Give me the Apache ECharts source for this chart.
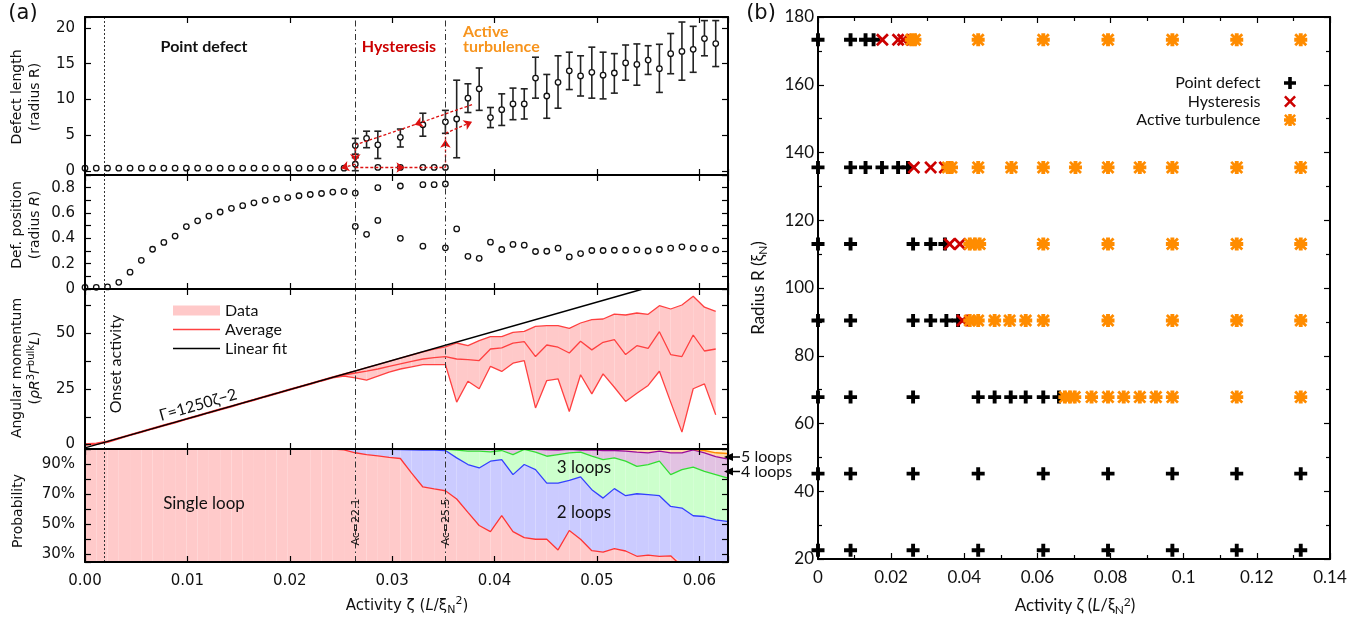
<!DOCTYPE html>
<html>
<head>
<meta charset="utf-8">
<script src="https://cdn.jsdelivr.net/npm/echarts@6/dist/echarts.min.js"></script>
<style>
html, body { margin: 0; padding: 0; background: #fff; }
#chart { width: 1364px; height: 624px; }
</style>
</head>
<body>
<div id="chart"></div>
<script>
// activity grid shared by the panels of (a)
var zeta = [0, 0.0011, 0.0022, 0.0033, 0.0044, 0.0055, 0.0066, 0.0077, 0.0088, 0.0099,
    0.0110, 0.0121, 0.0132, 0.0143, 0.0154, 0.0165, 0.0176, 0.0187, 0.0198, 0.0209,
    0.0220, 0.0231, 0.0242, 0.0253, 0.0264, 0.0275, 0.0286, 0.0297, 0.0308, 0.0319,
    0.0330, 0.0341, 0.0352, 0.0363, 0.0374, 0.0385, 0.0396, 0.0407, 0.0418, 0.0429,
    0.0440, 0.0451, 0.0462, 0.0473, 0.0484, 0.0495, 0.0506, 0.0517, 0.0528, 0.0539,
    0.0550, 0.0561, 0.0572, 0.0583, 0.0594, 0.0605, 0.0616];
var zetaEdge = [0.0627];

// onset / Ac=22.1 / Ac=25.5
var markZeta = [0.0019, 0.02635, 0.03514];

// defect length, upper branch with error bars
var dlZeta = [0.0264, 0.0275, 0.0286, 0.0308, 0.0330, 0.0352, 0.0363, 0.0374, 0.0385, 0.0396,
    0.0407, 0.0418, 0.0429, 0.0440, 0.0451, 0.0462, 0.0473, 0.0484, 0.0495, 0.0506,
    0.0517, 0.0528, 0.0539, 0.0550, 0.0561, 0.0572, 0.0583, 0.0594, 0.0605, 0.0616];
var dlVal = [3.6, 4.6, 3.7, 4.75, 6.5, 6.9, 7.3, 10.2, 11.5, 7.5,
    8.6, 9.4, 9.4, 13.0, 10.5, 12.4, 14.0, 13.3, 13.8, 13.4,
    13.7, 15.1, 14.9, 15.5, 14.3, 16.4, 16.7, 17.0, 18.5, 17.8];
var dlLo = [2.4, 3.3, 1.8, 3.4, 4.9, 5.3, 1.9, 8.2, 8.5, 6.1,
    6.4, 7.2, 7.3, 10.2, 7.4, 8.8, 11.4, 10.5, 10.2, 10.1,
    10.9, 12.7, 12.0, 13.5, 11.0, 13.6, 12.7, 13.8, 16.1, 14.6];
var dlHi = [4.6, 5.6, 5.6, 5.9, 8.1, 8.5, 12.7, 12.2, 14.4, 8.9,
    10.8, 11.6, 11.5, 15.9, 13.5, 16.1, 16.6, 16.1, 17.3, 16.6,
    16.4, 17.6, 17.75, 17.5, 17.7, 19.2, 20.8, 20.2, 21.0, 21.0];
// defect length, point-defect branch
var dlLowZeta = [0, 0.0011, 0.0022, 0.0033, 0.0044, 0.0055, 0.0066, 0.0077, 0.0088, 0.0099,
    0.0110, 0.0121, 0.0132, 0.0143, 0.0154, 0.0165, 0.0176, 0.0187, 0.0198, 0.0209,
    0.0220, 0.0231, 0.0242, 0.0253, 0.0264, 0.0286, 0.0308, 0.0330, 0.0341, 0.0352];
var dlLowVal = [0.45, 0.45, 0.45, 0.45, 0.45, 0.45, 0.45, 0.45, 0.45, 0.45,
    0.45, 0.45, 0.45, 0.45, 0.45, 0.45, 0.45, 0.45, 0.45, 0.45,
    0.45, 0.45, 0.45, 0.45, 1.0, 0.55, 0.55, 0.55, 0.55, 0.55];
var dlLowBar = [0.0264, 0.1, 1.9];

// hysteresis guide (red dashed)
var hystArrowSegs = [
    [[0.0264, 0.55], [0.0312, 0.55]],
    [[0.0352, 0.55], [0.0352, 4.4]],
    [[0.0352, 5.3], [0.0378, 6.9]],
    [[0.0378, 9.3], [0.0322, 6.5]],
    [[0.0264, 3.3], [0.0264, 1.3]],
    [[0.0264, 1.0], [0.0250, 0.45]]
];
var hystPlainSegs = [
    [[0.0312, 0.55], [0.0352, 0.55]],
    [[0.0352, 4.4], [0.0352, 5.3]],
    [[0.0322, 6.5], [0.0264, 3.7]]
];

// defect position
var dpZeta = [0, 0.0011, 0.0022, 0.0033, 0.0044, 0.0055, 0.0066, 0.0077, 0.0088, 0.0099,
    0.0110, 0.0121, 0.0132, 0.0143, 0.0154, 0.0165, 0.0176, 0.0187, 0.0198, 0.0209,
    0.0220, 0.0231, 0.0242, 0.0253, 0.0264,
    0.0286, 0.0308, 0.0330, 0.0341, 0.0352,
    0.0264, 0.0275, 0.0286, 0.0308, 0.0330, 0.0352,
    0.0363, 0.0374, 0.0385, 0.0396, 0.0407, 0.0418, 0.0429, 0.0440, 0.0451, 0.0462,
    0.0473, 0.0484, 0.0495, 0.0506, 0.0517, 0.0528, 0.0539, 0.0550, 0.0561, 0.0572,
    0.0583, 0.0594, 0.0605, 0.0616];
var dpVal = [0.013, 0.013, 0.016, 0.053, 0.133, 0.226, 0.314, 0.368, 0.418, 0.493,
    0.538, 0.576, 0.608, 0.637, 0.658, 0.68, 0.70, 0.709, 0.722, 0.736,
    0.746, 0.754, 0.765, 0.77, 0.757,
    0.80, 0.813, 0.824, 0.824, 0.829,
    0.494, 0.432, 0.541, 0.40, 0.338, 0.325,
    0.474, 0.258, 0.242, 0.37, 0.312, 0.352, 0.346, 0.296, 0.298, 0.322,
    0.253, 0.28, 0.304, 0.304, 0.306, 0.306, 0.309, 0.30, 0.312, 0.322,
    0.333, 0.322, 0.32, 0.309];

// angular momentum
var amAvg = [0.0, 0.3, 1.2, 2.8, 4.3, 5.7, 7.2, 8.6, 10.0, 11.5,
    12.9, 14.4, 15.8, 17.2, 18.7, 20.1, 21.6, 23.0, 24.5, 25.9,
    27.3, 28.8, 30.2, 31.3, 32.2, 33.0, 34.0, 35.2, 36.3, 37.4,
    38.5, 39.1, 39.6, 38.5, 38.2, 37.8, 43.0, 43.5, 45.6, 46.3,
    39.6, 44.8, 43.8, 41.2, 46.5, 42.6, 46.0, 47.2, 40.5, 44.5,
    43.3, 50.8, 40.5, 39.6, 49.3, 42.1, 43.0];
var amMax = [0.3, 0.6, 1.5, 3.0, 4.5, 5.9, 7.4, 8.8, 10.2, 11.7,
    13.1, 14.6, 16.0, 17.4, 18.9, 20.3, 21.8, 23.2, 24.7, 26.1,
    27.5, 29.0, 30.4, 31.8, 33.1, 34.6, 36.0, 37.4, 38.9, 40.3,
    41.7, 43.0, 44.0, 45.7, 44.5, 46.8, 48.6, 48.6, 50.5, 50.9,
    53.2, 53.5, 53.5, 52.3, 54.7, 56.2, 56.5, 58.7, 58.3, 59.2,
    58.6, 62.5, 61.0, 62.8, 66.7, 61.8, 59.9];
var amMin = [-0.2, 0.1, 1.0, 2.6, 4.1, 5.5, 7.0, 8.4, 9.8, 11.3,
    12.7, 14.2, 15.6, 17.0, 18.5, 19.9, 21.4, 22.8, 24.3, 25.7,
    27.1, 28.6, 30.0, 30.8, 30.0, 29.0, 30.8, 32.6, 34.0, 35.0,
    36.0, 36.0, 36.0, 19.1, 28.5, 25.1, 35.2, 32.9, 36.6, 37.8,
    16.5, 28.8, 29.6, 14.9, 31.4, 22.8, 31.8, 25.8, 19.4, 23.1,
    26.6, 33.0, 19.1, 5.6, 25.1, 27.3, 13.4];
var fitZeta = [0, 0.0545];
var fitVal = [-1.5, 70];

// probability, cumulative (%): 1, 1-2, 1-3, 1-4, 1-5 loops
var pRed = [100, 100, 100, 100, 100, 100, 100, 100, 100, 100,
    100, 100, 100, 100, 100, 100, 100, 100, 100, 100,
    100, 100, 100, 99.5, 97.5, 96.3, 95.5, 94.5, 93.7, 84.0,
    74.8, 73.5, 72.3, 66.8, 57.9, 49.2, 45.2, 55.7, 45.2, 41.2,
    40.1, 40.1, 33.0, 45.9, 40.1, 32.5, 31.5, 33.9, 32.3, 28.8,
    29.5, 28.8, 29.1, 22.0, 20.0, 19.0, 18.0, 17.0];
var pBlue = [100, 100, 100, 100, 100, 100, 100, 100, 100, 100,
    100, 100, 100, 100, 100, 100, 100, 100, 100, 100,
    100, 100, 100, 100, 100, 99.8, 99.7, 99.7, 99.6, 99.5,
    99.3, 99.2, 99.0, 94.1, 89.7, 87.4, 91.9, 93.0, 83.0, 89.7,
    86.3, 77.4, 77.4, 79.2, 81.5, 73.0, 67.4, 73.7, 69.0, 70.3,
    69.7, 69.0, 61.9, 60.8, 55.7, 55.2, 53.0, 51.9];
var pGreen = [100, 100, 100, 100, 100, 100, 100, 100, 100, 100,
    100, 100, 100, 100, 100, 100, 100, 100, 100, 100,
    100, 100, 100, 100, 100, 100, 100, 100, 100, 100,
    100, 100, 99.7, 99.2, 98.6, 98.6, 98.1, 99.0, 96.3, 99.7,
    97.9, 95.2, 96.3, 97.4, 97.9, 95.2, 93.0, 94.1, 91.9, 88.5,
    89.7, 91.9, 83.0, 86.3, 88.0, 85.2, 83.0, 80.8];
var pPurple = [100, 100, 100, 100, 100, 100, 100, 100, 100, 100,
    100, 100, 100, 100, 100, 100, 100, 100, 100, 100,
    100, 100, 100, 100, 100, 100, 100, 100, 100, 100,
    100, 100, 100, 100, 100, 100, 100, 100, 100, 100,
    99.7, 99.5, 99.3, 99.7, 99.3, 99.5, 99.0, 99.0, 98.6, 97.9,
    97.4, 98.6, 97.4, 97.4, 99.5, 97.4, 95.0, 93.5];
var pOrange = [100, 100, 100, 100, 100, 100, 100, 100, 100, 100,
    100, 100, 100, 100, 100, 100, 100, 100, 100, 100,
    100, 100, 100, 100, 100, 100, 100, 100, 100, 100,
    100, 100, 100, 100, 100, 100, 100, 100, 100, 100,
    100, 100, 100, 100, 100, 100, 100, 100, 100, 100,
    100, 100, 100, 100, 99.7, 99.0, 97.5, 97.0];

// phase diagram (b): [activity, radius]
var pointDefect = [
    [0, 173.3], [0.0089, 173.3], [0.0130, 173.3], [0.0152, 173.3],
    [0, 135.6], [0.0089, 135.6], [0.0130, 135.6], [0.0175, 135.6], [0.0219, 135.6], [0.0246, 135.6],
    [0, 113.0], [0.0089, 113.0], [0.0260, 113.0], [0.0308, 113.0], [0.0347, 113.0],
    [0, 90.4], [0.0089, 90.4], [0.0260, 90.4], [0.0308, 90.4], [0.0351, 90.4], [0.0383, 90.4],
    [0, 67.8], [0.0089, 67.8], [0.0260, 67.8], [0.0438, 67.8], [0.0483, 67.8], [0.0527, 67.8],
    [0.0568, 67.8], [0.0616, 67.8], [0.0659, 67.8],
    [0, 45.2], [0.0089, 45.2], [0.0260, 45.2], [0.0438, 45.2], [0.0616, 45.2], [0.0793, 45.2],
    [0.0969, 45.2], [0.1145, 45.2], [0.1320, 45.2],
    [0, 22.6], [0.0089, 22.6], [0.0260, 22.6], [0.0438, 22.6], [0.0616, 22.6], [0.0793, 22.6],
    [0.0969, 22.6], [0.1145, 22.6], [0.1320, 22.6]
];
var hysteresis = [
    [0.0176, 173.3], [0.0219, 173.3], [0.0233, 173.3],
    [0.0262, 135.6], [0.0308, 135.6], [0.0347, 135.6],
    [0.0360, 113.0], [0.0388, 113.0],
    [0.0395, 90.4]
];
var activeTurbulence = [
    [0.0255, 173.3], [0.0265, 173.3], [0.0438, 173.3], [0.0616, 173.3], [0.0793, 173.3],
    [0.0969, 173.3], [0.1145, 173.3], [0.1320, 173.3],
    [0.0355, 135.6], [0.0365, 135.6], [0.0438, 135.6], [0.0529, 135.6], [0.0616, 135.6],
    [0.0704, 135.6], [0.0793, 135.6], [0.0880, 135.6], [0.0969, 135.6], [0.1145, 135.6], [0.1320, 135.6],
    [0.0415, 113.0], [0.0429, 113.0], [0.0442, 113.0], [0.0616, 113.0], [0.0793, 113.0],
    [0.0969, 113.0], [0.1145, 113.0], [0.1320, 113.0],
    [0.0415, 90.4], [0.0438, 90.4], [0.0483, 90.4], [0.0524, 90.4], [0.0568, 90.4],
    [0.0616, 90.4], [0.0793, 90.4], [0.0969, 90.4], [0.1145, 90.4], [0.1320, 90.4],
    [0.0675, 67.8], [0.0689, 67.8], [0.0702, 67.8], [0.0748, 67.8], [0.0793, 67.8],
    [0.0836, 67.8], [0.0880, 67.8], [0.0924, 67.8], [0.0969, 67.8], [0.1145, 67.8], [0.1320, 67.8]
];

var NUM = 'DejaVu Sans';
var TXT = 'Lato';

var PLUS = 'path://M3.5,0H6.5V3.5H10V6.5H6.5V10H3.5V6.5H0V3.5H3.5Z';
var CROSS = 'path://M1.5,0L5,3.5L8.5,0L10,1.5L6.5,5L10,8.5L8.5,10L5,6.5L1.5,10L0,8.5L3.5,5L0,1.5Z';
var STAR = 'path://M3.5,0H6.5V3.5H10V6.5H6.5V10H3.5V6.5H0V3.5H3.5Z' +
    'M1.5,0L5,3.5L8.5,0L10,1.5L6.5,5L10,8.5L8.5,10L5,6.5L1.5,10L0,8.5L3.5,5L0,1.5Z';
var LINE_ICON = 'path://M0,0H100V3H0Z';

function pairs(xs, ys)
{
    return xs.map(function (x, i) { return [x, ys[i]]; });
}

// quads between a lower and an upper curve, one per interval
function quads(xs, lows, highs, layer)
{
    var out = [];
    for (var i = 0; i + 1 < xs.length; i++)
        out.push([xs[i], xs[i + 1], lows[i], lows[i + 1], highs[i], highs[i + 1], layer]);
    return out;
}

function bandRenderer(colors)
{
    return function (params, api) {
        var x0 = api.value(0), x1 = api.value(1);
        var pts = [
            api.coord([x0, api.value(2)]), api.coord([x1, api.value(3)]),
            api.coord([x1, api.value(5)]), api.coord([x0, api.value(4)])
        ];
        pts = echarts.graphic.clipPointsByRect(pts, params.coordSys);
        return {type: 'polygon', shape: {points: pts},
            style: {fill: colors[api.value(6)], stroke: null}};
    };
}

// show a label only on multiples of step (offset by base)
function every(step, base, fmt)
{
    return function (v) {
        var r = (v - base) / step;
        if (Math.abs(r - Math.round(r)) > 1e-6)
            return '';
        return fmt(v);
    };
}

function axis(grid, pos, min, max, extra)
{
    var a = {
        type: 'value', gridIndex: grid, position: pos, min: min, max: max,
        axisLine: {show: true, onZero: false, lineStyle: {color: '#000', width: 2}},
        axisTick: {show: true, inside: true, length: 6, lineStyle: {color: '#000', width: 1.2}},
        axisLabel: {show: false},
        splitLine: {show: false},
        z: 6
    };
    return Object.assign(a, extra || {});
}

function numLabel(fmt, margin)
{
    return {show: true, formatter: fmt, margin: margin, color: '#111',
        fontFamily: NUM, fontSize: 15};
}

var xMax = 0.0628;
var xAxes = [];
var yAxes = [];
for (var g = 0; g < 4; g++) {
    var bottom = {interval: 0.01};
    if (g === 3)
        bottom.axisLabel = numLabel(every(0.01, 0, function (v) { return v.toFixed(2); }), 12);
    xAxes.push(axis(g, 'bottom', 0, xMax, bottom));
    xAxes.push(axis(g, 'top', 0, xMax, {interval: 0.01}));
}

var yDefs = [
    {min: -0.5, max: 21.5, step: 5, lab: every(5, 0, function (v) { return String(v); })},
    {min: 0, max: 0.9, step: 0.1, lab: every(0.2, 0, function (v) { return v === 0 ? '0' : v.toFixed(1); })},
    {min: -2, max: 70, step: 12.5, lab: every(25, 0, function (v) { return String(v); })},
    {min: 25, max: 100, step: 10, lab: function (v) {
        return (v < 100 && v % 20 === 10) ? v + '%' : '';
    }}
];
yDefs.forEach(function (d, g) {
    yAxes.push(axis(g, 'left', d.min, d.max, {minInterval: d.step, maxInterval: d.step,
        axisLabel: numLabel(d.lab, 10)}));
    yAxes.push(axis(g, 'right', d.min, d.max, {minInterval: d.step, maxInterval: d.step}));
});

// panel (b)
var minorB = {show: true, splitNumber: 2, length: 4, lineStyle: {color: '#000', width: 1.2}};
var labB = {show: true, color: '#111', fontFamily: TXT, fontSize: 17};
xAxes.push(axis(4, 'bottom', 0, 0.14, {interval: 0.02, minorTick: minorB,
    axisLabel: Object.assign({margin: 10}, labB)}));
xAxes.push(axis(4, 'top', 0, 0.14, {interval: 0.02, minorTick: minorB}));
yAxes.push(axis(4, 'left', 20, 180, {interval: 20, minorTick: minorB,
    axisLabel: Object.assign({margin: 4}, labB)}));
yAxes.push(axis(4, 'right', 20, 180, {interval: 20, minorTick: minorB}));

function vlines()
{
    return {
        silent: true, symbol: ['none', 'none'], label: {show: false}, precision: 6,
        emphasis: {disabled: true},
        data: markZeta.map(function (v, i) {
            return {xAxis: v, lineStyle: {color: '#333', width: 1,
                type: i === 0 ? [2, 2] : [6, 3, 1.5, 3]}};
        })
    };
}

function circles(g, data)
{
    return {
        type: 'scatter', xAxisIndex: 2 * g, yAxisIndex: 2 * g, data: data,
        symbol: 'circle', symbolSize: 5.5, z: 4, silent: true,
        itemStyle: {color: '#fff', borderColor: '#111', borderWidth: 1.3, opacity: 1}
    };
}

function renderErr(params, api)
{
    var x = api.value(0);
    var lo = api.coord([x, api.value(1)]);
    var hi = api.coord([x, api.value(2)]);
    var w = 3.5;
    var st = {stroke: '#222', lineWidth: 1.6};
    return {
        type: 'group',
        children: [
            {type: 'line', shape: {x1: lo[0], y1: lo[1], x2: hi[0], y2: hi[1]}, style: st},
            {type: 'line', shape: {x1: lo[0] - w, y1: lo[1], x2: lo[0] + w, y2: lo[1]}, style: st},
            {type: 'line', shape: {x1: hi[0] - w, y1: hi[1], x2: hi[0] + w, y2: hi[1]}, style: st}
        ]
    };
}

var series = [];

// (a) top: defect length
series.push({
    type: 'custom', xAxisIndex: 0, yAxisIndex: 0, renderItem: renderErr,
    encode: {x: 0, y: [1, 2]}, z: 3, silent: true,
    data: dlZeta.map(function (z, i) { return [z, dlLo[i], dlHi[i]]; }).concat([dlLowBar])
});
var lowSeries = circles(0, pairs(dlLowZeta, dlLowVal));
lowSeries.markLine = {
    silent: true, symbol: ['none', 'arrow'], symbolSize: 8, label: {show: false}, precision: 6,
    emphasis: {disabled: true},
    lineStyle: {color: '#dd1111', type: [3, 2], width: 1.3},
    data: hystArrowSegs.map(function (s) {
        return [{coord: s[0]}, {coord: s[1]}];
    }).concat(hystPlainSegs.map(function (s) {
        return [{coord: s[0], symbol: 'none'}, {coord: s[1], symbol: 'none'}];
    }))
};
series.push(lowSeries);
var upSeries = circles(0, pairs(dlZeta, dlVal));
upSeries.markLine = vlines();
series.push(upSeries);

// (a) def. position
var posSeries = circles(1, pairs(dpZeta, dpVal));
posSeries.markLine = vlines();
series.push(posSeries);

// (a) angular momentum
series.push({
    type: 'custom', name: 'Data', xAxisIndex: 4, yAxisIndex: 4,
    renderItem: bandRenderer(['#ffc9c9']), encode: {x: [0, 1], y: [2, 3, 4, 5]},
    itemStyle: {color: '#ffc9c9'}, silent: true, z: 1,
    data: quads(zeta, amMin, amMax, 0)
});
[['max', amMax], ['Average', amAvg], ['min', amMin]].forEach(function (s) {
    series.push({
        type: 'line', name: s[0], xAxisIndex: 4, yAxisIndex: 4, symbol: 'none', showSymbol: false,
        data: pairs(zeta, s[1]), itemStyle: {color: '#ff4040'},
        lineStyle: {color: '#ff4040', width: 1.3}, silent: true
    });
});
series.push({
    type: 'line', name: 'Linear fit', xAxisIndex: 4, yAxisIndex: 4, symbol: 'none', showSymbol: false,
    data: pairs(fitZeta, fitVal), itemStyle: {color: '#000'},
    lineStyle: {color: '#000', width: 1.5}, silent: true, markLine: vlines()
});

// (a) probability
var probZeta = zeta.concat(zetaEdge);
var zeros = probZeta.map(function () { return 0; });
var full = probZeta.map(function () { return 100; });
var bounds = [pRed, pBlue, pGreen, pPurple, pOrange];
var fills = ['#ffcaca', '#cbcbff', '#ccffcc', '#e2c2e2', '#ffd8a8', '#fff0cc'];
var layerData = [];
[zeros].concat(bounds).forEach(function (lo, i) {
    var hi = i < bounds.length ? bounds[i] : full;
    layerData = layerData.concat(quads(probZeta, lo, hi, i));
});
series.push({
    type: 'custom', xAxisIndex: 6, yAxisIndex: 6, renderItem: bandRenderer(fills),
    encode: {x: [0, 1], y: [2, 3, 4, 5]}, silent: true, z: 1, data: layerData
});
var strokes = ['#ff3535', '#3340ff', '#33dd33', '#9a0a9a', '#ff8a00'];
bounds.forEach(function (arr, i) {
    var s = {
        type: 'line', xAxisIndex: 6, yAxisIndex: 6, symbol: 'none', showSymbol: false,
        data: pairs(probZeta, arr), lineStyle: {color: strokes[i], width: 1.3}, silent: true
    };
    if (i === bounds.length - 1)
        s.markLine = vlines();
    series.push(s);
});

// (b) phase diagram
series.push({
    type: 'scatter', name: 'Point defect', xAxisIndex: 8, yAxisIndex: 8, data: pointDefect,
    symbol: PLUS, symbolSize: 13, itemStyle: {color: '#000', opacity: 1}, silent: true
});
series.push({
    type: 'scatter', name: 'Hysteresis', xAxisIndex: 8, yAxisIndex: 8, data: hysteresis,
    symbol: CROSS, symbolSize: 13, itemStyle: {color: '#cc0000', opacity: 1}, silent: true
});
series.push({
    type: 'scatter', name: 'Active turbulence', xAxisIndex: 8, yAxisIndex: 8, data: activeTurbulence,
    symbol: STAR, symbolSize: 13, itemStyle: {color: '#ff8c00', opacity: 1}, silent: true
});

function txt(x, y, text, style, rotation)
{
    var s = Object.assign({
        text: text, fill: '#111', fontFamily: TXT, fontSize: 16,
        align: 'center', verticalAlign: 'middle',
        textAlign: 'center', textVerticalAlign: 'middle'
    }, style || {});
    return {type: 'text', x: x, y: y, rotation: rotation || 0, style: s, z: 100, silent: true};
}

var richA = {
    n: {fontFamily: NUM, fontSize: 14, lineHeight: 18, fill: '#111'},
    i: {fontFamily: NUM, fontSize: 14, lineHeight: 18, fontStyle: 'italic', fill: '#111'},
    sup: {fontFamily: NUM, fontSize: 10, lineHeight: 18, verticalAlign: 'top', fill: '#111'},
    sub: {fontFamily: NUM, fontSize: 10, lineHeight: 18, verticalAlign: 'bottom', fill: '#111'}
};
var richX = {
    n: {fontFamily: NUM, fontSize: 15, lineHeight: 20, fill: '#111'},
    i: {fontFamily: NUM, fontSize: 15, lineHeight: 20, fontStyle: 'italic', fill: '#111'},
    sup: {fontFamily: NUM, fontSize: 11, lineHeight: 20, verticalAlign: 'top', fill: '#111'},
    sub: {fontFamily: NUM, fontSize: 11, lineHeight: 20, verticalAlign: 'bottom', fill: '#111'}
};
var richB = {
    n: {fontFamily: TXT, fontSize: 17, lineHeight: 20, fill: '#111'},
    i: {fontFamily: TXT, fontSize: 17, lineHeight: 20, fontStyle: 'italic', fill: '#111'},
    sup: {fontFamily: TXT, fontSize: 12, lineHeight: 20, verticalAlign: 'top', fill: '#111'},
    sub: {fontFamily: TXT, fontSize: 12, lineHeight: 20, verticalAlign: 'bottom', fill: '#111'}
};
var UP = Math.PI / 2;

var graphics = [
    txt(23, 14, '(a)', {fontFamily: NUM, fontSize: 21}),
    txt(761, 14, '(b)', {fontFamily: NUM, fontSize: 21}),
    txt(26, 97, '{n|Defect length}\n{n|(radius R)}', {rich: richA}, UP),
    txt(26, 225, '{n|Def. position}\n{n|(radius }{i|R}{n|)}', {rich: richA}, UP),
    txt(26, 368, '{n|Angular momentum}\n{n|(}{i|ρR}{sup|3}{i|Γ}{sup|bulk}{i|L}{n|)}', {rich: richA}, UP),
    txt(18, 511, '{n|Probability}', {rich: richA}, UP),
    txt(407, 606, '{n|Activity ζ (}{i|L}{n|/ξ}{sub|N}{sup|2}{n|)}', {rich: richX}),
    txt(1075, 606, '{n|Activity ζ (}{i|L}{n|/ξ}{sub|N}{sup|2}{n|)}', {rich: richB}),
    txt(759, 288, '{n|Radius R (ξ}{sub|N}{n|)}', {rich: richB}, UP),
    txt(204, 47, 'Point defect', {fontWeight: 'bold', fontSize: 16}),
    txt(399, 47, 'Hysteresis', {fontWeight: 'bold', fontSize: 16, fill: '#cc0000'}),
    txt(463, 32, 'Active', {fontWeight: 'bold', fontSize: 16, fill: '#f7941d',
        align: 'left', textAlign: 'left'}),
    txt(463, 47, 'turbulence', {fontWeight: 'bold', fontSize: 16, fill: '#f7941d',
        align: 'left', textAlign: 'left'}),
    txt(116, 364, 'Onset activity', {fontSize: 16}, UP),
    txt(198, 405, 'Γ=1250ζ−2', {fontSize: 16}, 0.277),
    txt(204, 504, 'Single loop', {fontSize: 17}),
    txt(584, 468, '3 loops', {fontSize: 17}),
    txt(584, 513, '2 loops', {fontSize: 17}),
    txt(356, 522, 'Ac=22.1', {fontFamily: NUM, fontSize: 11}, UP),
    txt(446, 522, 'Ac=25.5', {fontFamily: NUM, fontSize: 11}, UP),
    txt(741, 457, '5 loops', {fontSize: 16, align: 'left', textAlign: 'left'}),
    txt(741, 471.5, '4 loops', {fontSize: 16, align: 'left', textAlign: 'left'}),
    {type: 'line', shape: {x1: 730, y1: 457, x2: 740, y2: 457}, style: {stroke: '#000', lineWidth: 1.5}, z: 100},
    {type: 'polygon', shape: {points: [[724, 457], [733, 453], [733, 461]]}, style: {fill: '#000'}, z: 100},
    {type: 'line', shape: {x1: 730, y1: 471.5, x2: 740, y2: 471.5}, style: {stroke: '#000', lineWidth: 1.5}, z: 100},
    {type: 'polygon', shape: {points: [[724, 471.5], [733, 467.5], [733, 475.5]]}, style: {fill: '#000'}, z: 100}
];

var gridBase = {containLabel: false, outerBoundsMode: 'none', show: false};
var option = {
    animation: false,
    backgroundColor: '#fff',
    textStyle: {fontFamily: TXT},
    grid: [
        Object.assign({left: 85, top: 17, width: 643, height: 158}, gridBase),
        Object.assign({left: 85, top: 175, width: 643, height: 114}, gridBase),
        Object.assign({left: 85, top: 289, width: 643, height: 160}, gridBase),
        Object.assign({left: 85, top: 449, width: 643, height: 113}, gridBase),
        Object.assign({left: 818, top: 17, width: 512, height: 542}, gridBase)
    ],
    legend: [
        {
            orient: 'vertical', left: 168, top: 297, itemWidth: 47, itemHeight: 10, itemGap: 2,
            selectedMode: false,
            textStyle: {fontFamily: TXT, fontSize: 16, color: '#111', lineHeight: 17},
            data: [{name: 'Data', icon: 'rect'}, {name: 'Average', icon: LINE_ICON},
                {name: 'Linear fit', icon: LINE_ICON}]
        },
        {
            orient: 'vertical', align: 'right', right: 63, top: 70, itemWidth: 13, itemHeight: 12,
            itemGap: 2.5, selectedMode: false,
            textStyle: {fontFamily: TXT, fontSize: 16, color: '#111', lineHeight: 16,
                padding: [0, 18, 0, 0]},
            data: ['Point defect', 'Hysteresis', 'Active turbulence']
        }
    ],
    xAxis: xAxes,
    yAxis: yAxes,
    series: series,
    graphic: graphics
};

var chart = echarts.init(document.getElementById('chart'));
chart.setOption(option);
</script>
</body>
</html>
